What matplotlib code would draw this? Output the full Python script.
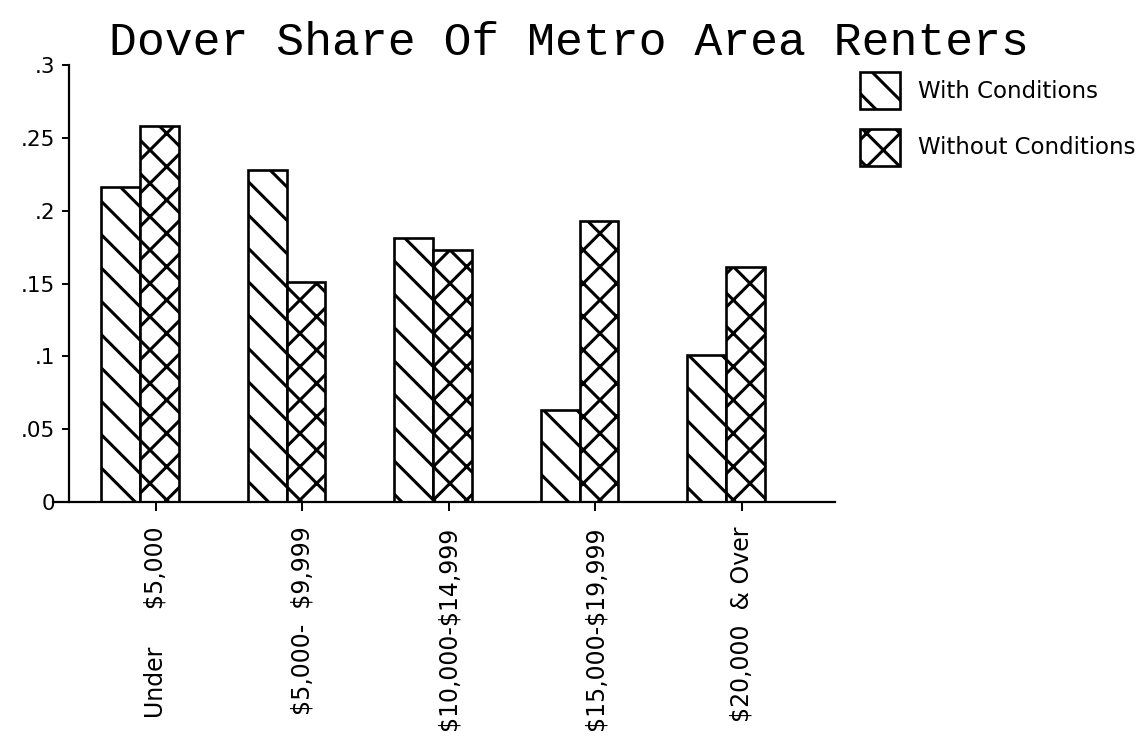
import numpy as np
import matplotlib
matplotlib.use('Agg')
from matplotlib import pyplot as plt

# 数据
categories = ['Under     \\$5,000', '\\$5,000-  \\$9,999', '\\$10,000-\\$14,999',
              '\\$15,000-\\$19,999', '\\$20,000  & Over']
with_cond = [0.216, 0.228, 0.181, 0.063, 0.101]
without_cond = [0.258, 0.151, 0.173, 0.193, 0.161]
series_names = ['With Conditions', 'Without Conditions']
ytick_vals = [0, 0.05, 0.1, 0.15, 0.2, 0.25, 0.3]
ytick_labels = ['0', '.05', '.1', '.15', '.2', '.25', '.3']
title = 'Dover Share Of Metro Area Renters'

plt.rcParams['hatch.linewidth'] = 2.2
plt.rcParams['hatch.color'] = 'black'
plt.rcParams['font.family'] = 'DejaVu Sans'

fig = plt.figure(figsize=(11.45, 7.5), dpi=100)
ax = fig.add_axes([53 / 1145, 1 - 502 / 750, 782 / 1145, 437 / 750])

x = np.arange(len(categories))
w = 0.266
b1 = ax.bar(x - w / 2, with_cond, w, facecolor='white', edgecolor='black',
            hatch='\\', linewidth=1.9, label=series_names[0])
b2 = ax.bar(x + w / 2, without_cond, w, facecolor='white', edgecolor='black',
            hatch='x', linewidth=1.9, label=series_names[1])

ax.set_xlim(-0.594, 4.744)
ax.set_ylim(0, 0.3)

# 坐标轴样式
for s in ['top', 'right']:
    ax.spines[s].set_visible(False)
ax.spines['left'].set_position(('axes', 16 / 782))
ax.spines['left'].set_linewidth(1.6)
ax.spines['bottom'].set_linewidth(1.6)

ax.set_yticks(ytick_vals)
ax.set_yticklabels(ytick_labels, fontsize=15.5)
ax.tick_params(axis='y', length=5, width=1.4, pad=5)

ax.set_xticks(x + 0.109)
ax.set_xticklabels(categories, rotation=90, fontsize=17, va='top', ha='center')
ax.tick_params(axis='x', length=6.5, width=1.4, pad=11)

fig.text(0.497, 1 - 55 / 750, title, family='Liberation Mono', fontsize=33.5,
         ha='center', va='baseline')

fig.legend(handles=[b1, b2], loc='upper left',
           bbox_to_anchor=(860 / 1145, 1 - 72 / 750), frameon=False,
           fontsize=16.5, borderpad=0, borderaxespad=0,
           handlelength=1.75, handleheight=2.1, handletextpad=0.78,
           labelspacing=0.87)

fig.savefig('out.png', dpi=100)
